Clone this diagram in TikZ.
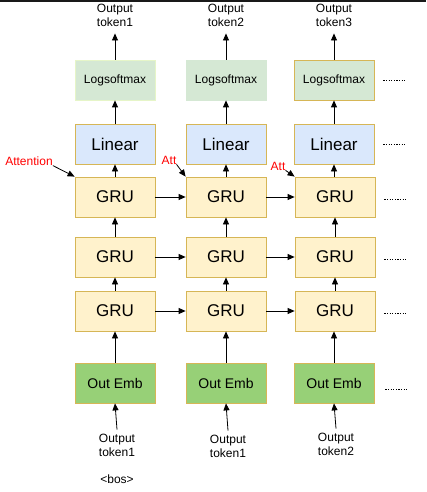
\documentclass[tikz,border=0pt]{standalone}
\usepackage{fontspec}
\setmainfont{Liberation Sans}
\usetikzlibrary{arrows.meta}
\definecolor{gruFill}{HTML}{FFF2CC}
\definecolor{goldLine}{HTML}{D6B656}
\definecolor{linFill}{HTML}{DAE8FC}
\definecolor{lsFill}{HTML}{D5E8D4}
\definecolor{lsLine}{HTML}{E6F5C8}
\definecolor{embFill}{HTML}{97D077}
\tikzset{
  box/.style={draw=goldLine, line width=0.8pt, minimum width=80pt, minimum height=40pt, inner sep=0pt},
  grubox/.style={box, fill=gruFill, font=\fontsize{17}{20}\selectfont},
  linbox/.style={box, fill=linFill, font=\fontsize{17}{20}\selectfont},
  lsbox/.style={box, fill=lsFill, font=\fontsize{12}{14}\selectfont},
  embbox/.style={box, fill=embFill, font=\fontsize{14}{16}\selectfont},
  lbl/.style={align=center, inner sep=0pt, font=\fontsize{12}{14}\selectfont},
  attlbl/.style={inner sep=0pt, text=red, font=\fontsize{12}{14}\selectfont},
  arr/.style={line width=0.8pt, -{Triangle[length=7pt,width=6pt]}},
  moredots/.style={line width=0.9pt, dash pattern=on 1.2pt off 1.4pt}
}
\begin{document}
\begin{tikzpicture}[x=1pt,y=-1pt]
			%%%%% START %%%%%
			\useasboundingbox (0,0) rectangle (426,492);
			\draw[line width=1.6pt, color=black!90] (0,0.8) -- (426,0.8);
			
			% column 1
			\node[lsbox, draw=lsLine] (ls1) at (115,80) {Logsoftmax};
			\node[linbox] (lin1) at (115,144) {Linear};
			\node[grubox] (gruA1) at (115,197) {GRU};
			\node[grubox] (gruB1) at (115,257) {GRU};
			\node[grubox] (gruC1) at (115,311) {GRU};
			\node[embbox] (emb1) at (115,383) {Out Emb};
			
			% column 2
			\node[lsbox, draw=lsFill] (ls2) at (226,80) {Logsoftmax};
			\node[linbox] (lin2) at (226,144) {Linear};
			\node[grubox] (gruA2) at (226,197) {GRU};
			\node[grubox] (gruB2) at (226,257) {GRU};
			\node[grubox] (gruC2) at (226,311) {GRU};
			\node[embbox] (emb2) at (226,383) {Out Emb};
			
			% column 3
			\node[lsbox] (ls3) at (334,80) {Logsoftmax};
			\node[linbox] (lin3) at (334,144) {Linear};
			\node[grubox] (gruA3) at (335,197) {GRU};
			\node[grubox] (gruB3) at (335,257) {GRU};
			\node[grubox] (gruC3) at (335,311) {GRU};
			\node[embbox] (emb3) at (334,383) {Out Emb};
			
			% outputs
			\node[lbl] (top1) at (115,15) {Output\\token1};
			\node[lbl] (top2) at (226,15) {Output\\token2};
			\node[lbl] (top3) at (334,15) {Output\\token3};
			
			% inputs
			\node[lbl] (in1) at (117,445) {Output\\token1};
			\node[lbl] (in2) at (228,446) {Output\\token1};
			\node[lbl] (in3) at (336,444) {Output\\token2};
			\node[lbl] (bos) at (117,479) {\textless bos\textgreater};
			
			% attention
			\node[attlbl] (att1) at (29,161) {Attention};
			\node[attlbl] (att2) at (169,160) {Att};
			\node[attlbl] (att3) at (278,166) {Att};
			
			\draw[arr] (att1.south east) -- (gruA1.north west);
			\draw[arr] (att2.south east) -- (gruA2.north west);
			\draw[arr] (att3.south east) -- (gruA3.north west);
			
			% up the columns
			\draw[arr] (in1.north) ++(0,-4) -- (emb1.south);
			\draw[arr] (in2.north) ++(0,-4) -- (emb2.south);
			\draw[arr] (in3.north) ++(0,-4) -- (emb3.south);
			\draw[arr] (emb1) -- (gruC1);
			\draw[arr] (emb2) -- (gruC2);
			\draw[arr] (emb3.north) -- (emb3.north |- gruC3.south);
			\draw[arr] (gruC1) -- (gruB1);
			\draw[arr] (gruC2) -- (gruB2);
			\draw[arr] (gruC3) -- (gruB3);
			\draw[arr] (gruB1) -- (gruA1);
			\draw[arr] (gruB2) -- (gruA2);
			\draw[arr] (gruB3) -- (gruA3);
			\draw[arr] (gruA1) -- (lin1);
			\draw[arr] (gruA2) -- (lin2);
			\draw[arr] (gruA3.north -| lin3) -- (lin3);
			\draw[arr] (lin1) -- (ls1);
			\draw[arr] (lin2) -- (ls2);
			\draw[arr] (lin3) -- (ls3);
			\draw[arr, shorten >=7pt] (ls1) -- (top1);
			\draw[arr, shorten >=7pt] (ls2) -- (top2);
			\draw[arr, shorten >=7pt] (ls3) -- (top3);
			
			% across the rows
			\draw[arr] (gruA1) -- (gruA2);
			\draw[arr] (gruB1) -- (gruB2);
			\draw[arr] (gruC1) -- (gruC2);
			\draw[arr] (gruA2) -- (gruA3);
			\draw[arr] (gruB2) -- (gruB3);
			\draw[arr] (gruC2) -- (gruC3);
			
			% and so on
			\draw[moredots] (ls3.east) ++(9,0) -- ++(22,0);
			\draw[moredots] (lin3.east) ++(9,0) -- ++(22,0);
			\draw[moredots] (gruA3.east) ++(9,2) -- ++(22,0);
			\draw[moredots] (gruB3.east) ++(9,2) -- ++(22,0);
			\draw[moredots] (gruC3.east) ++(9,2) -- ++(22,0);
			\draw[moredots] (emb3.east) ++(11,6) -- ++(22,0);
			%%%%% END %%%%%
\end{tikzpicture}
\end{document}
